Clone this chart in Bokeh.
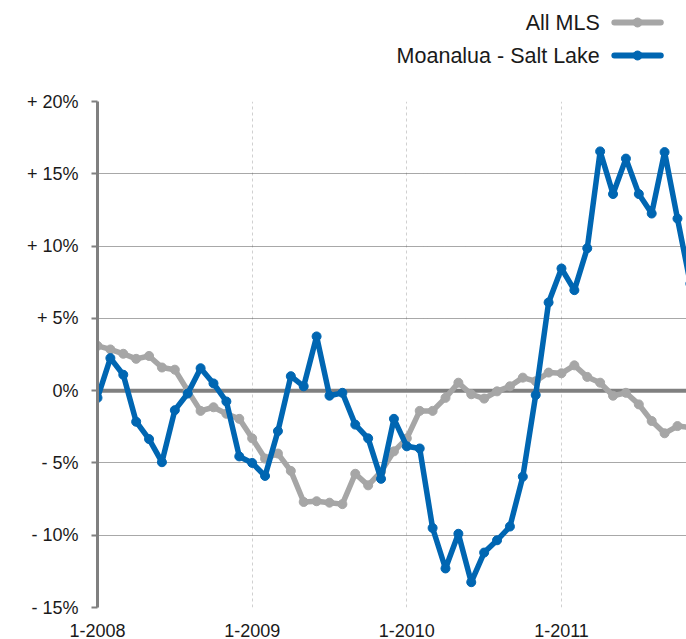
from bokeh.plotting import figure
from bokeh.models import Range1d, FixedTicker, Span
from bokeh.layouts import column
from bokeh.embed import file_html
from bokeh.resources import INLINE
from bokeh.core.properties import value

# ---- data (monthly, starting 1-2008) ----
month_index = list(range(47))
all_mls = [3.1, 2.85, 2.55, 2.2, 2.4, 1.6, 1.45, 0.0, -1.4, -1.15, -1.6, -1.95,
           -3.3, -4.7, -4.35, -5.55, -7.7, -7.65, -7.75, -7.85, -5.75, -6.55, -5.6, -4.2,
           -3.3, -1.4, -1.4, -0.5, 0.55, -0.25, -0.55, -0.05, 0.3, 0.9, 0.65, 1.25,
           1.2, 1.75, 0.95, 0.55, -0.35, -0.15, -0.95, -2.1, -2.95, -2.45, -2.55]
moanalua = [-0.5, 2.25, 1.1, -2.15, -3.35, -4.95, -1.35, -0.2, 1.55, 0.5, -0.75, -4.55,
            -5.0, -5.9, -2.8, 1.0, 0.3, 3.75, -0.35, -0.15, -2.35, -3.3, -6.1, -1.95,
            -3.85, -4.0, -9.5, -12.3, -9.9, -13.25, -11.2, -10.35, -9.4, -5.95, -0.3, 6.1,
            8.45, 6.95, 9.85, 16.55, 13.6, 16.05, 13.6, 12.25, 16.5, 11.9, 7.4]
x_tick_pos = [0, 12, 24, 36]
x_tick_labels = ["1-2008", "1-2009", "1-2010", "1-2011"]
y_ticks = [-15, -10, -5, 0, 5, 10, 15, 20]
y_tick_labels = ["- 15%", "- 10%", "- 5%", "0%", "+ 5%", "+ 10%", "+ 15%", "+ 20%"]
series_names = ["All MLS", "Moanalua - Salt Lake"]

GRAY = "#a6a6a6"
BLUE = "#0066b2"
AXIS = "#808080"
FONT = "Liberation Sans"
TEXT = "#1a1a1a"

# ---- legend strip ----
leg = figure(width=686, height=88, x_range=Range1d(0, 686), y_range=Range1d(0, 88),
             x_axis_type=None, y_axis_type=None, toolbar_location=None,
             output_backend="svg", min_border=0, outline_line_color=None)
leg.grid.visible = False
for name, col, yy in [(series_names[0], GRAY, 66), (series_names[1], BLUE, 33)]:
    leg.text(x=[585], y=[yy], text=[name], text_align="right", text_baseline="middle",
             text_font=value(FONT), text_font_size="21.5px", text_color=TEXT)
    leg.line(x=[602, 656], y=[yy, yy], line_color=col, line_width=6, line_cap="round")
    leg.scatter(x=[629], y=[yy], size=9, fill_color=col, line_color=col)

# ---- main chart ----
p = figure(width=686, height=551, x_range=Range1d(0, 45.7), y_range=Range1d(-15, 20),
           toolbar_location=None, output_backend="svg",
           min_border_left=97, min_border_right=0, min_border_top=13, min_border_bottom=31,
           outline_line_color=None)

p.xaxis.ticker = FixedTicker(ticks=x_tick_pos)
p.xaxis.major_label_overrides = {t: l for t, l in zip(x_tick_pos, x_tick_labels)}
p.xaxis.axis_line_color = None
p.xaxis.major_tick_line_color = None
p.xaxis.minor_tick_line_color = None
p.xaxis.major_label_standoff = 10
p.xaxis.major_label_text_font = FONT
p.xaxis.major_label_text_font_size = "18px"
p.xaxis.major_label_text_color = TEXT

p.yaxis.ticker = FixedTicker(ticks=y_ticks)
p.yaxis.major_label_overrides = {t: l for t, l in zip(y_ticks, y_tick_labels)}
p.yaxis.axis_line_color = AXIS
p.yaxis.axis_line_width = 3
p.yaxis.major_tick_line_color = AXIS
p.yaxis.major_tick_line_width = 2
p.yaxis.major_tick_out = 6
p.yaxis.major_tick_in = 0
p.yaxis.minor_tick_line_color = None
p.yaxis.major_label_standoff = 13
p.yaxis.major_label_text_font = FONT
p.yaxis.major_label_text_font_size = "18px"
p.yaxis.major_label_text_color = TEXT

p.ygrid.ticker = FixedTicker(ticks=y_ticks)
p.ygrid.grid_line_color = "#505050"
p.ygrid.grid_line_dash = "1 1"
p.ygrid.grid_line_width = 1
p.xgrid.ticker = FixedTicker(ticks=x_tick_pos)
p.xgrid.grid_line_color = "#d0d0d0"
p.xgrid.grid_line_dash = "3 3"
p.xgrid.grid_line_width = 1

p.add_layout(Span(location=0, dimension="width", line_color=AXIS, line_width=4, level="underlay"))

p.line(month_index, all_mls, line_color=GRAY, line_width=5.5, line_join="round")
p.scatter(month_index, all_mls, size=9, fill_color=GRAY, line_color=GRAY)
p.line(month_index, moanalua, line_color=BLUE, line_width=5.5, line_join="round")
p.scatter(month_index, moanalua, size=9, fill_color=BLUE, line_color=BLUE)

layout = column(leg, p)
open("out.html", "w").write(file_html(layout, INLINE))
